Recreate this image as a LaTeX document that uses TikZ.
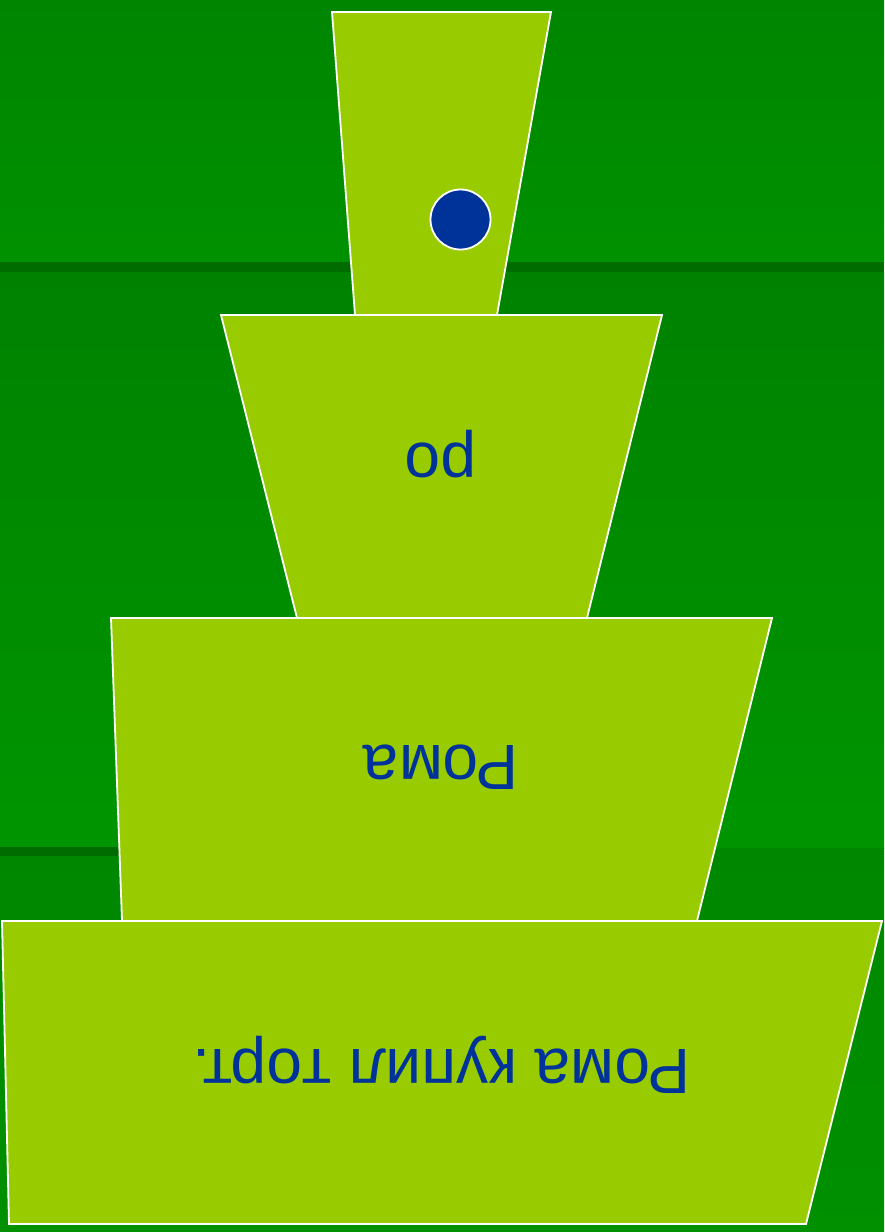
\documentclass[tikz,border=0pt]{standalone}
\usepackage{fontspec}
\setmainfont{Liberation Sans}
\definecolor{tierfill}{HTML}{99CC00}
\definecolor{ink}{HTML}{003399}
\definecolor{bgtopA}{HTML}{008500}
\definecolor{bgtopB}{HTML}{009100}
\definecolor{bgmidA}{HTML}{008200}
\definecolor{bgmidB}{HTML}{009500}
\definecolor{bgbotA}{HTML}{008700}
\definecolor{bgbotB}{HTML}{009000}
\definecolor{stripecol}{HTML}{006C00}
\begin{document}
\begin{tikzpicture}[x=0.5pt,y=-0.5pt,
  tier/.style={fill=tierfill,draw=white,line width=0.9pt,line join=miter},
  lbl/.style={text=ink,font=\fontsize{32}{38}\selectfont,rotate=180,inner sep=0pt,anchor=base},
  dot/.style={circle,fill=ink,draw=white,line width=0.9pt,minimum size=30pt,inner sep=0pt}]
\useasboundingbox (0,0) rectangle (884,1232);
% background
\shade[top color=bgtopA,bottom color=bgtopB] (0,0) rectangle (884,262);
\fill[stripecol] (0,262) rectangle (884,272);
\shade[top color=bgmidA,bottom color=bgmidB] (0,272) rectangle (884,848);
\shade[top color=bgbotA,bottom color=bgbotB] (0,848) rectangle (884,1232);
\fill[stripecol] (0,847) rectangle (130,856);
% tiers
\draw[tier] (332,12) -- (551,12) -- (497,315) -- (355,315) -- cycle;
\draw[tier] (221,315) -- (662,315) -- (587,618) -- (297,618) -- cycle;
\draw[tier] (111,618) -- (772,618) -- (697,921) -- (122,921) -- cycle;
\draw[tier] (2,921) -- (882,921) -- (806,1224) -- (9,1224) -- cycle;
% dot
\node[dot] (d) at (460.5,219.5) {};
% labels
\node[lbl] (t1) at (440.5,443) {ро};
\node[lbl] (t2) at (441,745) {Рома};
\node[lbl] (t3) at (441.5,1049) {Рома купил торт.};
\end{tikzpicture}
\end{document}
